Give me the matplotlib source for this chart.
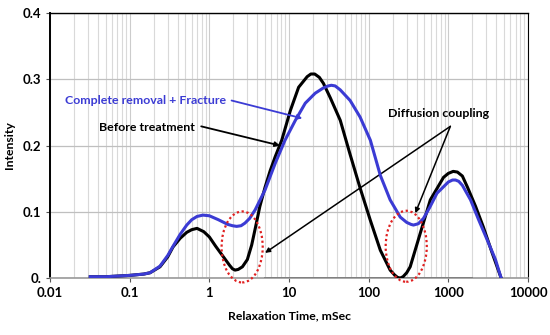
import numpy as np
import matplotlib
matplotlib.use("Agg")
import matplotlib.pyplot as plt
from matplotlib.patches import Ellipse

# values
before_x = [0.032, 0.05, 0.1, 0.15, 0.18, 0.24, 0.3, 0.35, 0.43, 0.52, 0.6, 0.7,
            0.85, 1.0, 1.2, 1.5, 1.8, 1.95, 2.1, 2.3, 2.6, 3.0, 3.4, 3.8, 4.3,
            5.0, 5.8, 6.7, 8.1, 10.4, 13.2, 16.9, 18.8, 21, 24, 27, 33, 44, 58,
            78, 105, 140, 186, 210, 230, 249, 270, 300, 332, 445, 594, 870, 1000,
            1150, 1300, 1500, 1740, 2200, 2750, 3500, 4600]
before_y = [0.002, 0.002, 0.004, 0.006, 0.008, 0.017, 0.032, 0.047, 0.060, 0.069,
            0.073, 0.075, 0.070, 0.062, 0.048, 0.032, 0.019, 0.014, 0.012, 0.013,
            0.017, 0.028, 0.050, 0.077, 0.108, 0.137, 0.162, 0.183, 0.208, 0.253,
            0.288, 0.304, 0.308, 0.308, 0.303, 0.294, 0.272, 0.238, 0.188, 0.136,
            0.087, 0.042, 0.012, 0.005, 0.001, 0.0, 0.002, 0.008, 0.017, 0.068,
            0.118, 0.152, 0.158, 0.161, 0.160, 0.154, 0.137, 0.108, 0.077, 0.040, 0.0]

frac_x = [0.032, 0.05, 0.1, 0.15, 0.18, 0.24, 0.3, 0.35, 0.43, 0.52, 0.6, 0.7,
          0.83, 1.0, 1.3, 1.7, 1.95, 2.2, 2.5, 2.8, 3.2, 3.76, 5.0, 6.7, 8.9,
          12.0, 16.0, 21.3, 27, 31, 34, 38, 44, 58.5, 78, 105, 140, 186, 249,
          300, 340, 365, 420, 487, 580, 720, 1000, 1130, 1230, 1350, 1500, 1900,
          2400, 3090, 3900, 4600]
frac_y = [0.002, 0.002, 0.004, 0.006, 0.008, 0.018, 0.034, 0.048, 0.066, 0.080,
          0.088, 0.093, 0.095, 0.094, 0.088, 0.081, 0.079, 0.078, 0.079, 0.083,
          0.090, 0.103, 0.133, 0.173, 0.208, 0.238, 0.264, 0.279, 0.287, 0.290,
          0.291, 0.290, 0.284, 0.268, 0.243, 0.208, 0.155, 0.118, 0.092, 0.084,
          0.081, 0.080, 0.082, 0.090, 0.106, 0.128, 0.145, 0.148, 0.148, 0.146,
          0.140, 0.118, 0.088, 0.057, 0.028, 0.0]

base_x = [5, 2000]
base_y = [0, 0]

xticks = [0.01, 0.1, 1, 10, 100, 1000, 10000]
xticklabels = ["0.01", "0.1", "1", "10", "100", "1000", "10000"]
yticks = [0, 0.1, 0.2, 0.3, 0.4]
yticklabels = ["0.", "0.1", "0.2", "0.3", "0.4"]

BLUE = "#3b3bd4"
plt.rcParams["font.family"] = ["Lato", "DejaVu Sans"]
plt.rcParams["font.weight"] = "bold"

fig = plt.figure(figsize=(5.5, 3.35), dpi=100)
ax = fig.add_axes([0.091, 0.170, 0.869, 0.791])

ax.set_xscale("log")
ax.set_xlim(0.01, 10000)
ax.set_ylim(0, 0.4)

ax.grid(True, which="minor", axis="x", color="#d9d9d9", lw=0.8)
ax.grid(True, which="major", axis="x", color="#cccccc", lw=0.8)
ax.grid(True, which="major", axis="y", color="#bfbfbf", lw=0.9)
ax.set_axisbelow(True)

ax.plot(base_x, base_y, color="black", lw=1.4, zorder=2)
ax.plot(before_x, before_y, color="black", lw=2.2, zorder=3,
        solid_joinstyle="round")
ax.plot(frac_x, frac_y, color=BLUE, lw=2.2, zorder=4, solid_joinstyle="round")

ax.set_xticks(xticks)
ax.set_xticklabels(xticklabels)
ax.set_yticks(yticks)
ax.set_yticklabels(yticklabels)
ax.tick_params(axis="both", which="major", labelsize=9.5, length=3, width=0.8,
               color="#555555")
ax.tick_params(axis="x", which="minor", length=0)

for s in ["left", "top", "right"]:
    ax.spines[s].set_color("black")
ax.spines["left"].set_linewidth(1.4)
ax.spines["top"].set_linewidth(1.0)
ax.spines["right"].set_linewidth(0.8)
ax.spines["bottom"].set_color("#999999")
ax.spines["bottom"].set_linewidth(1.2)

ax.set_ylabel("Intensity", fontsize=8.8, fontweight="bold", labelpad=5)
ax.set_xlabel("Relaxation Time, mSec", fontsize=8.8, fontweight="bold",
              labelpad=8)

# annotations
ax.text(1.63, 0.268, "Complete removal + Fracture", color=BLUE, fontsize=8.9,
        fontweight="bold", ha="right", va="center")
ax.annotate("", xy=(14.7, 0.241), xytext=(1.9, 0.268),
            arrowprops=dict(arrowstyle="-|>", color=BLUE, lw=1.3,
                            mutation_scale=7, shrinkA=0, shrinkB=0))
ax.text(0.66, 0.228, "Before treatment", color="black", fontsize=8.9,
        fontweight="bold", ha="right", va="center")
ax.annotate("", xy=(7.7, 0.2), xytext=(0.79, 0.229),
            arrowprops=dict(arrowstyle="-|>", color="black", lw=1.3,
                            mutation_scale=7, shrinkA=0, shrinkB=0))
ax.text(750, 0.249, "Diffusion coupling", color="black", fontsize=8.9,
        fontweight="bold", ha="center", va="center")
for tip in [(5.0, 0.038), (385, 0.098)]:
    ax.annotate("", xy=tip, xytext=(1060, 0.229),
                arrowprops=dict(arrowstyle="-|>", color="black", lw=1.1,
                                mutation_scale=7, shrinkA=0, shrinkB=0))

# red dotted ellipses around the coupling zones
to_axes = ax.transData + ax.transAxes.inverted()
for cx, cy in [(2.58, 0.047), (296, 0.048)]:
    ex, ey = to_axes.transform((cx, cy))
    ax.add_patch(Ellipse((ex, ey), 0.086, 0.268, transform=ax.transAxes,
                         fill=False, edgecolor="#e02020", lw=1.6,
                         linestyle=(0, (1, 1.2)), zorder=5, clip_on=False))

fig.savefig("out.png", dpi=100)
